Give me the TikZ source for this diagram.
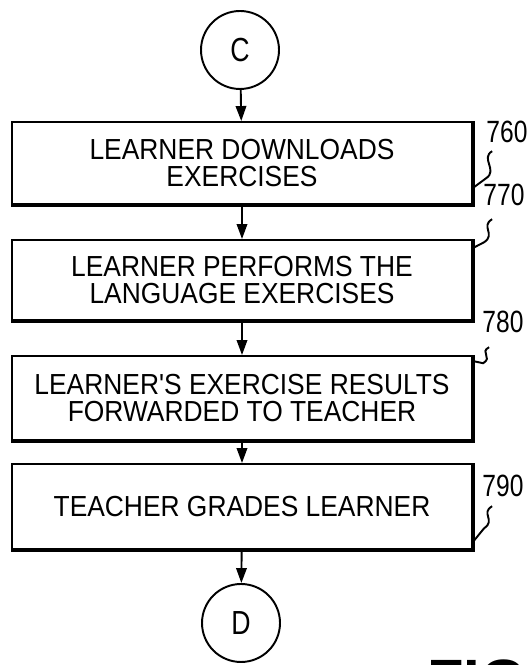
\documentclass[tikz,border=0pt]{standalone}
\usepackage{fontspec}
\setmainfont{Liberation Sans}
\newfontfamily\narrowsf[FakeStretch=0.91]{Liberation Sans}
\newfontfamily\numsf[FakeStretch=0.8]{Liberation Sans}
\usetikzlibrary{arrows.meta,positioning,calc}

\begin{document}
\begin{tikzpicture}[
  x=0.02cm, y=0.02cm,
  font=\narrowsf\fontsize{16.5}{15.5}\selectfont, >={Triangle[length=0.3cm, width=0.21cm]},
  st/.style={draw, align=center, inner sep=2pt, minimum width=9.2cm, line width=1.1pt},
  con/.style={draw, circle, minimum size=1.56cm, inner sep=0pt, line width=1.1pt, font=\numsf\fontsize{19}{19}\selectfont},
  fl/.style={->, line width=1.1pt},
  sh/.style={line width=2.3pt},
  num/.style={inner sep=0pt, font=\numsf\fontsize{17.5}{17.5}\selectfont},
  ld/.style={line width=1.1pt},
]
\useasboundingbox (0,0) rectangle (530,665);
\node[con] (c) at (240,615) {C};
\node[st, minimum height=1.64cm] (b1) at (242,502) {LEARNER DOWNLOADS\\EXERCISES};
\node[st, minimum height=1.6cm] (b2) at (242,385) {LEARNER PERFORMS THE\\LANGUAGE EXERCISES};
\node[st, minimum height=1.68cm] (b3) at (242,267) {LEARNER'S EXERCISE RESULTS\\FORWARDED TO TEACHER};
\node[st, minimum height=1.7cm] (b4) at (242,158.5) {TEACHER GRADES LEARNER};
\node[con] (d) at (241,42) {D};
% heavy bottom and right edges
\draw[sh] (b1.north east) -- (b1.south east) -- (b1.south west);
\draw[sh] (b2.north east) -- (b2.south east) -- (b2.south west);
\draw[sh] (b3.north east) -- (b3.south east) -- (b3.south west);
\draw[sh] (b4.north east) -- (b4.south east) -- (b4.south west);
\draw[fl] (c) -- (b1); \draw[fl] (b1) -- (b2); \draw[fl] (b2) -- (b3);
\draw[fl] (b3) -- (b4); \draw[fl] (b4) -- (d);
% reference numbers
\node[num] (l760) at (507,533) {760};
\node[num] (l770) at (504,470) {770};
\node[num] (l780) at (503,343) {780};
\node[num] (l790) at (503,179) {790};
\draw[ld] ([shift={(6,-8)}]l760.south west) .. controls +(-12,-7) and +(12,8) .. ++(-6,-27) -- ($(b1.south east)+(0,17)$);
\draw[ld] ([shift={(9,-13)}]l770.south west) .. controls +(-12,-7) and +(12,8) .. ++(-8,-23) -- ($(b2.north east)+(0,-9)$);
\draw[ld] ([shift={(7,-14)}]l780.south west) .. controls +(-10,-5) and +(10,6) .. ++(-6,-16) -- ($(b3.north east)+(0,-6)$);
\draw[ld] ([shift={(10,-9)}]l790.south west) .. controls +(-12,-7) and +(12,8) .. ++(-8,-22) -- ($(b4.south east)+(0,8)$);
\node[inner sep=0pt, anchor=north west, font=\bfseries\fontsize{34}{34}\selectfont] (fig) at (427,6) {FIG};
\end{tikzpicture}
\end{document}
